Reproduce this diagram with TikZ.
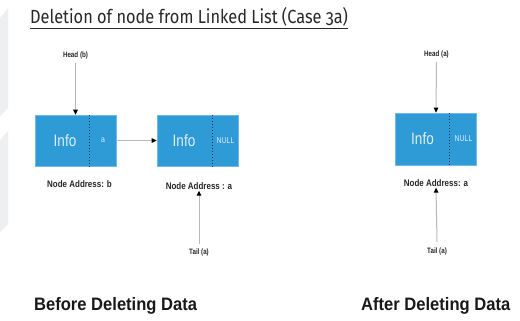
\documentclass[tikz,border=0pt]{standalone}
\usepackage{fontspec}
\setmainfont{Liberation Sans}
\newfontfamily\lblfont[FakeStretch=0.80]{Liberation Sans}
\newfontfamily\addrfont[FakeStretch=0.84]{Liberation Sans}
\newfontfamily\capfont[FakeStretch=0.92]{Liberation Sans}
\newfontfamily\infofont[FakeStretch=0.82]{Liberation Sans}
\newfontfamily\titlefont[FakeStretch=0.86,Numbers=OldStyle]{Fira Sans}
\usetikzlibrary{arrows.meta}
\definecolor{boxblue}{RGB}{46,154,214}
\definecolor{boxedge}{RGB}{110,185,230}
\definecolor{infotext}{RGB}{222,238,250}
\definecolor{divider}{RGB}{20,50,80}
\definecolor{deco}{RGB}{238,239,241}
\definecolor{titlegray}{RGB}{40,40,40}
\tikzset{
  llbox/.style={draw=boxedge, line width=0.6bp, fill=boxblue, minimum height=51bp, inner sep=0pt},
  infotxt/.style={text=infotext, font=\infofont\fontsize{16.5bp}{18bp}\selectfont, inner sep=0pt},
  ptrtxt/.style={text=infotext, font=\infofont\fontsize{8.5bp}{10bp}\selectfont, inner sep=0pt},
  smalllbl/.style={font=\lblfont\bfseries\fontsize{7.8bp}{9bp}\selectfont, inner sep=1bp, text=black!85},
  addrlbl/.style={font=\addrfont\bfseries\fontsize{9.5bp}{11bp}\selectfont, inner sep=1bp, text=black!85},
  biglbl/.style={font=\capfont\bfseries\fontsize{18bp}{20bp}\selectfont, inner sep=0pt, text=black!90, anchor=west},
  ptrarrow/.style={draw=gray!55, line width=1bp, -{Triangle[length=5bp,width=4.5bp,color=black]}},
  divline/.style={draw=divider, line width=1bp, dotted},
}
\begin{document}
\begin{tikzpicture}[x=1bp,y=-1bp]
\useasboundingbox (0,0) rectangle (520,320);
\fill[white] (0,0) rectangle (520,320);
% faint decoration on the left edge
\fill[deco] (0,18) -- (8,8) -- (8,108) -- (0,116) -- cycle;
\fill[deco] (0,140) -- (8,131) -- (8,224) -- (0,232) -- cycle;

% title
\node[font=\titlefont\fontsize{19bp}{22bp}\selectfont, text=titlegray, anchor=west, inner sep=0pt] (title) at (30,18) {\underline{Deletion of node from Linked List (Case 3a)}};

% ---------- before ----------
\node[llbox, minimum width=81bp] (b1) at (75.5,140.5) {};
\node[llbox, minimum width=81bp] (b2) at (197.5,140.5) {};
\draw[divline] (89,115) -- (89,166);
\draw[divline] (212,115) -- (212,166);
\node[infotxt] (i1) at (65,140.5) {Info};
\node[ptrtxt] (p1) at (103,140.5) {a};
\node[infotxt] (i2) at (184,140.5) {Info};
\node[ptrtxt] (p2) at (225.5,140.5) {NULL};

\node[smalllbl] (h1) at (75.5,55) {Head (b)};
\node[addrlbl] (a1) at (79.5,184) {Node Address: b};
\node[addrlbl] (a2) at (199,186) {Node Address : a};
\node[smalllbl] (t1) at (199,252.5) {Tail (a)};

\draw[ptrarrow] (h1.south) ++(0,3) coordinate (h1s) -- (b1.north);
\draw[ptrarrow] (b1.east) -- (b2.west);
\draw[ptrarrow] (t1.north) ++(0,-4) coordinate (t1n) -- (a2.south);

% ---------- after ----------
\node[llbox, minimum width=81bp, minimum height=52bp] (b3) at (436,139) {};
\draw[divline] (449,113) -- (449,165);
\node[infotxt] (i3) at (422.5,139) {Info};
\node[ptrtxt] (p3) at (463.5,139) {NULL};
\node[smalllbl] (h3) at (436.5,54) {Head (a)};
\node[addrlbl] (a3) at (436,183) {Node Address: a};
\node[smalllbl] (t3) at (437,251) {Tail (a)};
\draw[ptrarrow] (h3.south) ++(0,3) coordinate (h3s) -- (b3.north);
\draw[ptrarrow] (t3.north) ++(0,-4) coordinate (t3n) -- (a3.south);

% captions
\node[biglbl] (cap1) at (34,306) {Before Deleting Data};
\node[biglbl] (cap2) at (361,306) {After Deleting Data};
\end{tikzpicture}
\end{document}
